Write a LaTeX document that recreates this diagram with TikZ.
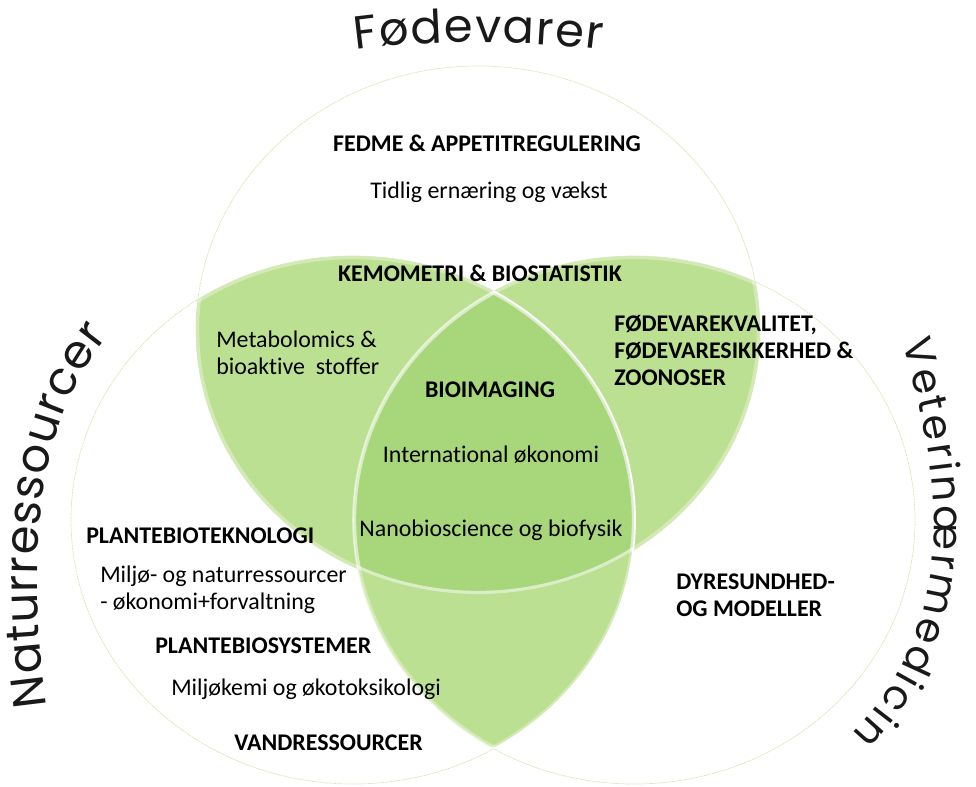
\documentclass[tikz,border=0pt]{standalone}
\usepackage{fontspec}
\setmainfont{Carlito}[Ligatures=NoCommon]
\newfontfamily\titlefont{Poppins}
\usetikzlibrary{decorations.text}
\definecolor{lensgreen}{RGB}{188,224,145}
\definecolor{coregreen}{RGB}{168,214,122}
\definecolor{rimgreen}{RGB}{212,233,186}
\def\fodring{(478,-330) ellipse [x radius=282, y radius=264]}
\def\natring{(353,-520) ellipse [x radius=282, y radius=264]}
\def\vetring{(634,-520) ellipse [x radius=281, y radius=264]}

\begin{document}
\begin{tikzpicture}[x=0.25mm,y=0.25mm,
    rim/.style={draw=rimgreen,line width=0.5pt,dash pattern=on 1.5pt off 0.5pt},
    lens/.style={fill=lensgreen},
    core/.style={fill=coregreen},
    sheen/.style={draw=white,draw opacity=0.35,line width=4.5pt},
    seam/.style={draw=white,line width=1.3pt},
    softseam/.style={draw=white,draw opacity=0.55,line width=1.1pt},
    topic/.style={inner sep=0pt,font=\fontsize{17}{19.2}\selectfont\bfseries},
    field/.style={inner sep=0pt,font=\fontsize{17}{19.2}\selectfont},
    headline/.style 2 args={decorate,decoration={text along path,text align=fit to path,
      text color=black!90,text={|\titlefont\fontsize{#1}{#1}\selectfont|#2}}}]
\useasboundingbox (0,0) rectangle (976,-786);

\draw[rim] \fodring;
\draw[rim] \natring;
\draw[rim] \vetring;

\begin{scope}
  \clip \fodring;
  \fill[lens] \natring;
  \fill[lens] \vetring;
\end{scope}
\begin{scope}
  \clip \natring;
  \fill[lens] \vetring;
\end{scope}
\begin{scope}
  \clip \fodring;
  \clip \natring;
  \fill[core] \vetring;
\end{scope}

\begin{scope}
  \clip \fodring;
  \clip \natring;
  \draw[sheen] \fodring;
  \draw[sheen] \natring;
\end{scope}
\begin{scope}
  \clip \fodring;
  \clip \vetring;
  \draw[sheen] \fodring;
  \draw[sheen] \vetring;
\end{scope}
\begin{scope}
  \clip \natring;
  \clip \vetring;
  \draw[sheen] \natring;
  \draw[sheen] \vetring;
\end{scope}
\begin{scope}
  \clip \natring;
  \draw[softseam] \vetring;
\end{scope}
\begin{scope}
  \clip \vetring;
  \draw[seam] \natring;
\end{scope}

\path[headline={33}{Fødevarer}] (356,-50) .. controls (430,-40) and (525,-40) .. (602,-50);
\path[headline={33}{Naturressourcer}] (47,-706) .. controls (33,-600) and (22,-440) .. (108,-336);
\path[headline={29}{Veterinærmedicin}] (902,-343) .. controls (945,-480) and (958,-625) .. (852,-734);

\node[topic] (fedme) at (487,-143) {FEDME \& APPETITREGULERING};
\node[field] (tidlig) at (489,-192) {Tidlig ernæring og vækst};
\node[topic] (kemo) at (480,-273) {KEMOMETRI \& BIOSTATISTIK};
\node[field,anchor=west,align=left] (metab) at (216,-353) {Metabolomics \&\\bioaktive\ \ stoffer};
\node[topic,anchor=west,align=left] (kvalitet) at (614,-350) {FØDEVAREKVALITET,\\FØDEVARESIKKERHED \&\\ZOONOSER};
\node[topic] (bioimg) at (490,-390) {BIOIMAGING};
\node[field] (intoek) at (491,-455) {International økonomi};
\node[field] (nano) at (491,-530) {Nanobioscience og biofysik};
\node[topic,anchor=west] (pbtek) at (86,-536) {PLANTEBIOTEKNOLOGI};
\node[field,anchor=west,align=left] (miljoe) at (100,-590) {Miljø- og naturressourcer\\- økonomi+forvaltning};
\node[topic,anchor=west] (pbsys) at (155,-646) {PLANTEBIOSYSTEMER};
\node[field,anchor=west] (oekotox) at (171,-689) {Miljøkemi og økotoksikologi};
\node[topic,anchor=west] (vand) at (234,-743) {VANDRESSOURCER};
\node[topic,anchor=west,align=left] (dyr) at (676,-595) {DYRESUNDHED-\\OG MODELLER};
\end{tikzpicture}
\end{document}
